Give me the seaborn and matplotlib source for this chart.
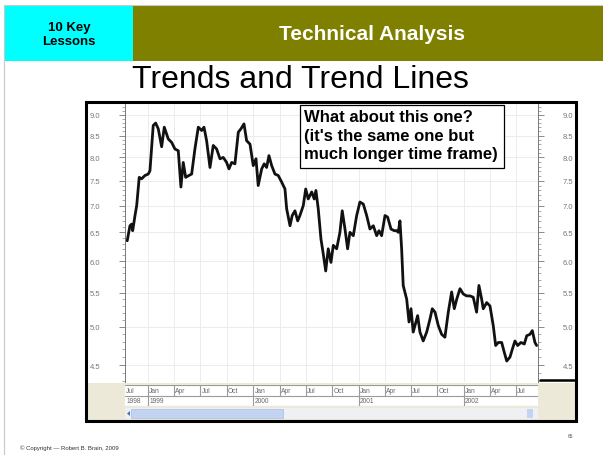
import numpy as np
import pandas as pd
import matplotlib
matplotlib.use("Agg")
import matplotlib.pyplot as plt
import seaborn as sns
from matplotlib.patches import Rectangle, Polygon
from matplotlib.lines import Line2D
from matplotlib.ticker import FixedLocator, NullFormatter, FixedFormatter

# ---------------- data ----------------
dates = [1998.803, 1998.829, 1998.845, 1998.855, 1998.877, 1998.893, 1998.917, 1998.940, 1998.972, 1999.003,
         1999.019, 1999.050, 1999.073, 1999.098, 1999.130, 1999.155, 1999.193, 1999.225, 1999.256, 1999.288,
         1999.313, 1999.335, 1999.358, 1999.389, 1999.415, 1999.446, 1999.478, 1999.510, 1999.532, 1999.557,
         1999.589, 1999.620, 1999.652, 1999.684, 1999.715, 1999.747, 1999.769, 1999.795, 1999.826, 1999.858,
         1999.883, 1999.912, 1999.937, 1999.969, 2000.000, 2000.026, 2000.047, 2000.080, 2000.104, 2000.127,
         2000.149, 2000.175, 2000.206, 2000.237, 2000.270, 2000.301, 2000.317, 2000.349, 2000.370, 2000.396,
         2000.422, 2000.443, 2000.475, 2000.498, 2000.522, 2000.555, 2000.579, 2000.595, 2000.617, 2000.643,
         2000.665, 2000.688, 2000.712, 2000.738, 2000.760, 2000.792, 2000.823, 2000.845, 2000.871, 2000.896,
         2000.918, 2000.950, 2000.982, 2001.013, 2001.045, 2001.077, 2001.108, 2001.140, 2001.172, 2001.194,
         2001.219, 2001.251, 2001.276, 2001.308, 2001.339, 2001.362, 2001.377, 2001.393, 2001.409, 2001.424,
         2001.457, 2001.479, 2001.498, 2001.519, 2001.536, 2001.561, 2001.583, 2001.614, 2001.647, 2001.678,
         2001.700, 2001.726, 2001.757, 2001.789, 2001.820, 2001.852, 2001.884, 2001.909, 2001.932, 2001.963,
         2001.994, 2002.026, 2002.058, 2002.089, 2002.121, 2002.143, 2002.169, 2002.184, 2002.217, 2002.248,
         2002.279, 2002.302, 2002.327, 2002.359, 2002.384, 2002.407, 2002.438, 2002.460, 2002.485, 2002.511,
         2002.542, 2002.574, 2002.597, 2002.628, 2002.650, 2002.675, 2002.691]

prices = [6.35, 6.62, 6.65, 6.53, 6.81, 7.00, 7.57, 7.54, 7.61, 7.64,
          7.71, 8.74, 8.80, 8.66, 8.24, 8.70, 8.42, 8.34, 8.19, 8.15,
          7.37, 7.89, 7.57, 7.61, 7.64, 8.19, 8.70, 8.62, 8.70, 8.38,
          7.78, 8.27, 8.19, 7.97, 8.00, 7.89, 7.75, 7.89, 7.86, 8.58,
          8.66, 8.78, 8.38, 8.30, 7.82, 7.97, 7.40, 7.75, 7.86, 7.78,
          8.04, 7.82, 7.64, 7.61, 7.47, 7.33, 6.94, 6.62, 6.81, 6.90,
          6.71, 6.81, 7.00, 7.33, 7.13, 7.27, 7.13, 7.30, 6.94, 6.38,
          6.12, 5.84, 6.21, 5.98, 6.27, 6.21, 6.50, 6.90, 6.56, 6.21,
          6.50, 6.44, 6.81, 7.07, 7.03, 6.81, 6.56, 6.62, 6.44, 6.53,
          6.44, 6.81, 6.78, 6.56, 6.53, 6.53, 6.50, 6.71, 6.21, 5.61,
          5.40, 5.07, 5.26, 4.93, 5.02, 5.16, 4.93, 4.81, 4.93, 5.11,
          5.26, 5.21, 5.02, 4.90, 4.86, 5.21, 5.51, 5.26, 5.40, 5.56,
          5.48, 5.45, 5.45, 5.43, 5.21, 5.61, 5.40, 5.26, 5.35, 5.30,
          5.02, 4.75, 4.79, 4.79, 4.66, 4.55, 4.60, 4.70, 4.81, 4.75,
          4.79, 4.77, 4.88, 4.90, 4.95, 4.79, 4.75]

ytick_values = [4.5, 5.0, 5.5, 6.0, 6.5, 7.0, 7.5, 8.0, 8.5, 9.0]
ytick_labels = ["4.5", "5.0", "5.5", "6.0", "6.5", "7.0", "7.5", "8.0", "8.5", "9.0"]

# quarter cells of the time axis: (year, month, label)
month_cells = [(1998, 7, "Jul"), (1999, 1, "Jan"), (1999, 4, "Apr"), (1999, 7, "Jul"), (1999, 10, "Oct"),
               (2000, 1, "Jan"), (2000, 4, "Apr"), (2000, 7, "Jul"), (2000, 10, "Oct"),
               (2001, 1, "Jan"), (2001, 4, "Apr"), (2001, 7, "Jul"), (2001, 10, "Oct"),
               (2002, 1, "Jan"), (2002, 4, "Apr"), (2002, 7, "Jul")]
year_cells = [1998, 1999, 2000, 2001, 2002]

header_left = "10 Key\nLessons"
header_right = "Technical Analysis"
slide_title = "Trends and Trend Lines"
note_text = "What about this one?\n(it's the same one but\nmuch longer time frame)"
copyright_text = "© Copyright — Robert B. Brain, 2009"
page_no = "65"

# ---------------- helpers ----------------
W, H = 603, 456
XMIN, XMAX = 1998.782, 2002.704
YMIN, YMAX = 4.293, 9.277


def dec(year, month):
    return year + (pd.Timestamp(year, month, 1).dayofyear - 1) / 365.0


def fx(x):
    return x / W


def fy(y):
    return 1 - y / H


def frect(x0, y0, x1, y1, **kw):
    return Rectangle((fx(x0), fy(y1)), (x1 - x0) / W, (y1 - y0) / H,
                     transform=fig.transFigure, **kw)


sns.set_style("white")
plt.rcParams["font.family"] = ["Liberation Sans", "DejaVu Sans"]

fig = plt.figure(figsize=(6.03, 4.56), dpi=100)
fig.patch.set_facecolor("white")

# slide frame lines
fig.add_artist(Line2D([fx(4), fx(4)], [fy(6), fy(456)], transform=fig.transFigure, color="#c8c8c8", lw=0.8))
fig.add_artist(Line2D([fx(4), fx(603)], [fy(6), fy(6)], transform=fig.transFigure, color="#c8c8c8", lw=0.8))

# header
fig.add_artist(frect(5, 7, 133, 62, facecolor="#00ffff", edgecolor="none"))
fig.add_artist(frect(133, 7, 603, 62, facecolor="#808000", edgecolor="none"))
fig.text(fx(69), fy(35), header_left, ha="center", va="center", fontsize=9.5,
         fontweight="bold", color="black", linespacing=1.2)
fig.text(fx(372), fy(35), header_right, ha="center", va="center", fontsize=15,
         fontweight="bold", color="white")
fig.text(fx(300), fy(80), slide_title, ha="center", va="center", fontsize=23, color="black")

# chart background/bottom band
fig.add_artist(frect(86, 103, 576, 422, facecolor="white", edgecolor="none", zorder=-2))
fig.add_artist(frect(87, 384, 575, 421, facecolor="#ece9d8", edgecolor="none", zorder=-1))
# scroll bar
fig.add_artist(frect(125, 409, 538, 420, facecolor="#eef0f3", edgecolor="none", zorder=-1))
fig.add_artist(frect(131, 410, 283, 419, facecolor="#c3d3f2", edgecolor="#aabde6", lw=0.5, zorder=-1))
fig.add_artist(Polygon([[fx(127), fy(414.5)], [fx(130), fy(412)], [fx(130), fy(417)]], closed=True,
                       transform=fig.transFigure, facecolor="#4d6fb5", edgecolor="none"))
fig.add_artist(frect(527, 410, 533, 419, facecolor="#c3d3f2", edgecolor="none", zorder=-1))

# ---------------- main price axes ----------------
ax = fig.add_axes([fx(125), fy(383), (538 - 125) / W, (383 - 105) / H])
ax.set_facecolor("white")
df = pd.DataFrame({"date": dates, "price": prices})
sns.lineplot(data=df, x="date", y="price", ax=ax, color="#111111", linewidth=2.0,
             estimator=None, sort=False)
ax.set_yscale("log")
ax.set_xlim(XMIN, XMAX)
ax.set_ylim(YMIN, YMAX)
ax.set_xlabel("")
ax.set_ylabel("")

ax.yaxis.set_major_locator(FixedLocator(ytick_values))
ax.yaxis.set_major_formatter(FixedFormatter(ytick_labels))
minor_vals = [round(4.3 + 0.1 * i, 1) for i in range(50)]
minor_vals = [v for v in minor_vals if v not in ytick_values and YMIN <= v <= YMAX]
ax.yaxis.set_minor_locator(FixedLocator(minor_vals))
ax.yaxis.set_minor_formatter(NullFormatter())
ax.tick_params(axis="y", which="major", left=True, right=True, labelleft=True, labelright=True,
               length=4, width=0.6, color="#777777", labelsize=5.5, labelcolor="#777777", pad=14)
ax.tick_params(axis="y", which="minor", left=True, right=True, length=2, width=0.5, color="#888888")

quarter_pos = [dec(y, m) for (y, m, _) in month_cells]
ax.xaxis.set_major_locator(FixedLocator(quarter_pos))
ax.xaxis.set_major_formatter(NullFormatter())
ax.xaxis.set_minor_locator(FixedLocator([]))
ax.tick_params(axis="x", which="both", length=0, bottom=False)
ax.grid(True, axis="both", which="major", color="#ececec", lw=0.7)
ax.set_axisbelow(True)
for s in ["top", "bottom"]:
    ax.spines[s].set_visible(False)
for s in ["left", "right"]:
    ax.spines[s].set_color("#777777")
    ax.spines[s].set_linewidth(0.7)

# ---------------- time-axis table ----------------
tx = fig.add_axes([fx(125), fy(407), (538 - 125) / W, (407 - 386) / H])
tx.set_xlim(XMIN, XMAX)
tx.set_ylim(0, 2)
tx.set_facecolor("white")
tx.set_xticks([])
tx.set_yticks([])
for s in tx.spines.values():
    s.set_visible(False)
lc = "#9a9a9a"
tx.axhline(2, color=lc, lw=0.8)
tx.axhline(1, color=lc, lw=0.8)
tx.axhline(0, color=lc, lw=0.8)
for (y, m, lab) in month_cells:
    p = dec(y, m)
    if p > XMIN:
        tx.plot([p, p], [1, 2], color=lc, lw=0.8)
    tx.text(max(p, XMIN) + 0.012, 1.5, lab, fontsize=4.8, color="#666666", ha="left", va="center")
for yr in year_cells:
    p = float(yr)
    if p > XMIN:
        tx.plot([p, p], [0, 1], color=lc, lw=0.8)
    tx.text(max(p, XMIN) + 0.012, 0.5, str(yr), fontsize=4.8, color="#666666", ha="left", va="center")

# short thick mark at bottom right of chart
fig.add_artist(Line2D([fx(540), fx(576)], [fy(381), fy(381)], transform=fig.transFigure,
                      color="black", lw=1.8))

# chart frame
fig.add_artist(frect(86, 103, 576, 422, fill=False, edgecolor="black", lw=2.2, zorder=10))

# annotation box
fig.add_artist(frect(300, 106, 504, 169, facecolor="white", edgecolor="black", lw=0.9, zorder=11))
fig.text(fx(304), fy(110), note_text, ha="left", va="top", fontsize=12.0, fontweight="bold",
         color="black", linespacing=1.3, zorder=12)

# footer
fig.text(fx(20), fy(448), copyright_text, ha="left", va="center", fontsize=4.3, color="#333333")
fig.text(fx(570), fy(437), page_no, ha="center", va="center", fontsize=3.5, color="#555555")

fig.savefig("out.png", dpi=100)
